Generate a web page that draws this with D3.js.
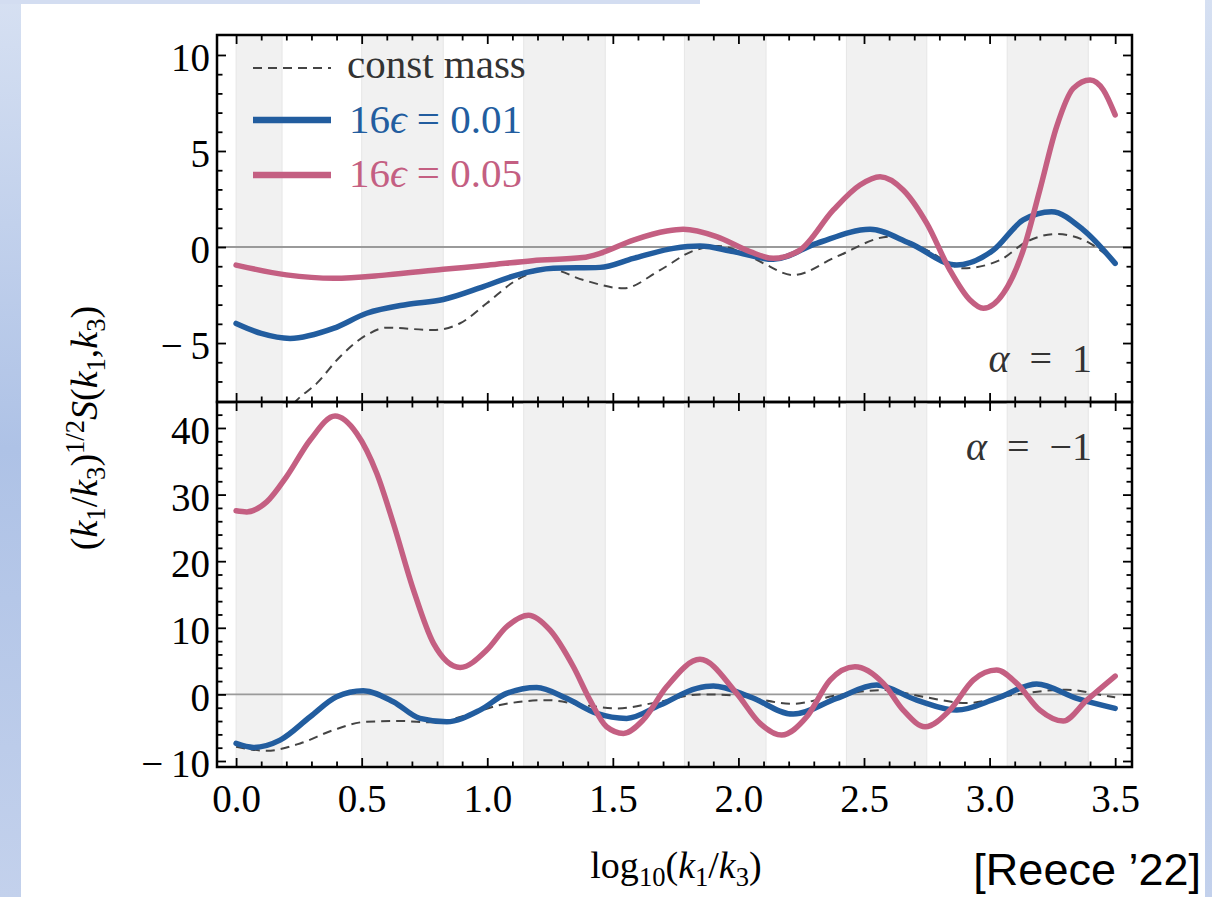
<!DOCTYPE html>
<html>
<head>
<meta charset="utf-8">
<script src="https://cdn.jsdelivr.net/npm/d3@7"></script>
<style>
body { margin: 0; background: #fff; }
svg { display: block; }
</style>
</head>
<body>
<svg id="chart" width="1212" height="897"></svg>
<script>
// shaded log10(k1/k3) intervals
var bands = [[0, 0.183], [0.5, 0.825], [1.145, 1.47], [1.785, 2.11], [2.43, 2.75], [3.07, 3.393]]
var xTicks = [0, 0.5, 1, 1.5, 2, 2.5, 3, 3.5]
var topTicks = [-5, 0, 5, 10]
var botTicks = [-10, 0, 10, 20, 30, 40]
var seriesNames = ['const mass', '0.01', '0.05']

// alpha = 1
var topConst = [[0.1, -10.8], [0.235, -8.07], [0.321, -7.1], [0.414, -5.71], [0.52, -4.58], [0.6, -4.2], [0.786, -4.32], [0.892, -3.97], [0.998, -2.93], [1.117, -1.72], [1.25, -1.16], [1.383, -1.72], [1.542, -2.15], [1.688, -1.2], [1.82, -0.2], [1.92, 0.05], [2.0, -0.2], [2.1, -0.85], [2.218, -1.46], [2.391, -0.5], [2.603, 0.54], [2.75, -0.16], [2.895, -1.11], [3.041, -0.68], [3.148, 0.28], [3.267, 0.68], [3.4, 0.19], [3.49, -0.68]]
var topLow = [[0, -3.98], [0.1, -4.5], [0.215, -4.76], [0.387, -4.24], [0.52, -3.45], [0.68, -2.99], [0.825, -2.73], [0.985, -2.06], [1.117, -1.46], [1.263, -1.11], [1.449, -1.06], [1.582, -0.59], [1.741, -0.07], [1.847, 0.05], [1.98, -0.24], [2.139, -0.64], [2.312, 0.19], [2.524, 0.92], [2.683, 0.19], [2.869, -0.94], [3.015, -0.16], [3.134, 1.41], [3.247, 1.84], [3.373, 0.89], [3.5, -0.85]]
var topHigh = [[0, -0.94], [0.2, -1.45], [0.39, -1.63], [0.6, -1.45], [0.825, -1.16], [1.0, -0.95], [1.18, -0.71], [1.38, -0.55], [1.449, -0.33], [1.582, 0.36], [1.715, 0.83], [1.78, 0.92], [1.913, 0.54], [2.046, -0.24], [2.139, -0.59], [2.245, -0.16], [2.378, 1.93], [2.484, 3.23], [2.564, 3.66], [2.656, 2.97], [2.75, 1.23], [2.842, -1.2], [2.922, -2.76], [2.975, -3.19], [3.055, -2.41], [3.134, -0.16], [3.2, 2.97], [3.267, 6.27], [3.333, 8.26], [3.4, 8.7], [3.453, 8.18], [3.5, 6.88]]

// alpha = -1
var botConst = [[0, -7.86], [0.122, -8.46], [0.255, -7.36], [0.387, -5.36], [0.52, -4.1], [0.653, -4.0], [0.786, -4.2], [0.919, -3.1], [1.051, -1.6], [1.237, -0.86], [1.383, -1.6], [1.515, -2.1], [1.688, -1.1], [1.847, 0.0], [1.98, -0.15], [2.218, -1.4], [2.391, -0.15], [2.577, 0.65], [2.736, -0.36], [2.909, -1.3], [3.08, -0.15], [3.306, 0.7], [3.453, -0.15], [3.5, -0.45]]
var botLow = [[0, -7.36], [0.069, -7.96], [0.175, -6.86], [0.295, -3.36], [0.4, -0.36], [0.506, 0.55], [0.626, -1.1], [0.732, -3.6], [0.839, -4.1], [0.971, -2.36], [1.077, 0.15], [1.197, 1.05], [1.316, -0.6], [1.436, -2.85], [1.555, -3.6], [1.688, -1.6], [1.834, 0.9], [1.9, 1.25], [2.046, -0.36], [2.218, -2.96], [2.391, -0.6], [2.55, 1.4], [2.71, -0.86], [2.869, -2.36], [3.028, -0.6], [3.187, 1.55], [3.347, -0.6], [3.5, -2.1]]
var botHigh = [[0, 27.57], [0.042, 27.4], [0.122, 28.9], [0.201, 32.7], [0.295, 38.2], [0.394, 41.8], [0.48, 39.2], [0.56, 33.2], [0.626, 25.7], [0.706, 15.7], [0.786, 7.66], [0.892, 4.05], [0.998, 6.65], [1.077, 10.15], [1.164, 11.9], [1.25, 9.65], [1.343, 4.15], [1.409, -0.86], [1.475, -4.86], [1.542, -5.86], [1.62, -3.86], [1.714, 1.14], [1.847, 5.26], [1.993, 0.15], [2.086, -4.35], [2.172, -6.1], [2.272, -3.36], [2.365, 2.15], [2.464, 4.15], [2.577, 1.65], [2.656, -2.36], [2.743, -4.86], [2.842, -2.36], [2.935, 2.15], [3.028, 3.65], [3.108, 1.65], [3.2, -2.36], [3.293, -4.0], [3.387, -0.86], [3.5, 2.75]]

var serif = '"Liberation Serif", "Times New Roman", serif'
var blue = '#225d9f'
var pink = '#c45f82'
var styles = [
  {stroke: '#444', width: 2, dash: '9,6'},
  {stroke: blue, width: 5.5, dash: null},
  {stroke: pink, width: 5.5, dash: null}
]

var svg = d3.select('#chart')

// slide background strips
var grad = svg.append('defs').append('linearGradient')
    .attr('id', 'slide').attr('x1', 0).attr('y1', 0).attr('x2', 0).attr('y2', 1)
grad.append('stop').attr('offset', '0%').attr('stop-color', '#d6e0f2')
grad.append('stop').attr('offset', '50%').attr('stop-color', '#aec2e6')
grad.append('stop').attr('offset', '100%').attr('stop-color', '#c3d1ec')
svg.append('rect').attr('width', 21).attr('height', 897).attr('fill', 'url(#slide)')
svg.append('rect').attr('x', 1205).attr('width', 7).attr('height', 897).attr('fill', 'url(#slide)')
svg.append('rect').attr('width', 700).attr('height', 4).attr('fill', '#d3ddf1')

var x = d3.scaleLinear().domain([-0.076, 3.567]).range([217, 1132])
var xMinor = d3.range(0, 36).filter(function (i) { return i % 5 }).map(function (i) { return i / 10 })

var panels = [
  {y: d3.scaleLinear().domain([-8.07, 11.04]).range([402, 35]), ticks: topTicks, step: 1,
    series: [topConst, topLow, topHigh], label: '1', labelY: 372},
  {y: d3.scaleLinear().domain([-10.9, 43.9]).range([767, 402]), ticks: botTicks, step: 2,
    series: [botConst, botLow, botHigh], label: '−1', labelY: 460}
]

var line = d3.line().curve(d3.curveMonotoneX)
var fmtY = function (d) { return d < 0 ? '−\u2009' + Math.abs(d) : String(d) }

function styleAxis (g) {
  g.select('.domain').remove()
  g.selectAll('line').attr('stroke', '#000').attr('stroke-width', 1.8)
  g.selectAll('text').attr('font-family', serif).attr('font-size', 39).attr('fill', '#000')
}

panels.forEach(function (p, i) {
  var y = p.y
  var y0 = y.range()[0]
  var y1 = y.range()[1]
  var g = svg.append('g')

  g.append('clipPath').attr('id', 'clip' + i)
    .append('rect').attr('x', 217).attr('y', y1).attr('width', 915).attr('height', y0 - y1)

  g.selectAll('rect.band').data(bands).enter().append('rect')
      .attr('class', 'band')
      .attr('x', function (d) { return x(d[0]) })
      .attr('width', function (d) { return x(d[1]) - x(d[0]) })
      .attr('y', y1).attr('height', y0 - y1)
      .attr('fill', '#f1f1f1')
      .attr('stroke', '#e6e6e6').attr('stroke-width', 1)

  g.append('line')
      .attr('x1', 217).attr('x2', 1132)
      .attr('y1', y(0)).attr('y2', y(0))
      .attr('stroke', '#9a9a9a').attr('stroke-width', 1.8)

  var lines = g.append('g').attr('clip-path', 'url(#clip' + i + ')')
  p.series.forEach(function (s, j) {
    lines.append('path')
        .attr('d', line.x(function (d) { return x(d[0]) }).y(function (d) { return y(d[1]) })(s))
        .attr('fill', 'none')
        .attr('stroke', styles[j].stroke)
        .attr('stroke-width', styles[j].width)
        .attr('stroke-dasharray', styles[j].dash)
        .attr('stroke-linecap', j ? 'round' : 'butt')
  })

  var dom = y.domain()
  var yMinor = d3.range(Math.ceil(dom[0] / p.step) * p.step, dom[1], p.step)
      .filter(function (v) { return p.ticks.indexOf(v) < 0 && y(v) > y1 + 3 && y(v) < y0 - 3 })

  g.append('g').attr('transform', 'translate(217,0)')
      .call(d3.axisLeft(y).tickValues(p.ticks).tickSize(-9).tickPadding(7).tickFormat(fmtY))
      .call(styleAxis)
      .selectAll('text').attr('dy', '0.4em')
  g.append('g').attr('transform', 'translate(217,0)')
      .call(d3.axisLeft(y).tickValues(yMinor).tickSize(-5.5).tickFormat(''))
      .call(styleAxis)
  g.append('g').attr('transform', 'translate(1132,0)')
      .call(d3.axisRight(y).tickValues(p.ticks).tickSize(-9).tickFormat(''))
      .call(styleAxis)
  g.append('g').attr('transform', 'translate(1132,0)')
      .call(d3.axisRight(y).tickValues(yMinor).tickSize(-5.5).tickFormat(''))
      .call(styleAxis)

  g.append('g').attr('transform', 'translate(0,' + y1 + ')')
      .call(d3.axisTop(x).tickValues(xTicks).tickSize(-9).tickFormat(''))
      .call(styleAxis)
  g.append('g').attr('transform', 'translate(0,' + y1 + ')')
      .call(d3.axisTop(x).tickValues(xMinor).tickSize(-5.5).tickFormat(''))
      .call(styleAxis)
  g.append('g').attr('transform', 'translate(0,' + y0 + ')')
      .call(d3.axisBottom(x).tickValues(xTicks).tickSize(-9).tickPadding(17)
        .tickFormat(i ? d3.format('.1f') : ''))
      .call(styleAxis)
  g.append('g').attr('transform', 'translate(0,' + y0 + ')')
      .call(d3.axisBottom(x).tickValues(xMinor).tickSize(-5.5).tickFormat(''))
      .call(styleAxis)

  g.append('rect')
      .attr('x', 217).attr('y', y1).attr('width', 915).attr('height', y0 - y1)
      .attr('fill', 'none').attr('stroke', '#000').attr('stroke-width', 2.5)

  var lab = g.append('text')
      .attr('x', 1092).attr('y', p.labelY)
      .attr('text-anchor', 'end')
      .attr('font-family', serif).attr('font-size', 40).attr('fill', '#333')
  lab.append('tspan').attr('font-style', 'italic').text('α')
  lab.append('tspan').text('\u2002=\u2002' + p.label)
})

// legend
var legend = svg.append('g')
var legendY = [68, 120, 175]
var textY = [78, 133, 187]
seriesNames.forEach(function (name, j) {
  legend.append('line')
      .attr('x1', 253).attr('x2', 331)
      .attr('y1', legendY[j]).attr('y2', legendY[j])
      .attr('stroke', styles[j].stroke)
      .attr('stroke-width', j ? 6.5 : 2)
      .attr('stroke-dasharray', styles[j].dash)
  var t = legend.append('text')
      .attr('x', j ? 349 : 347).attr('y', textY[j])
      .attr('font-family', serif).attr('font-size', 41)
      .attr('fill', j ? styles[j].stroke : '#333')
  if (j === 0) {
    t.text(name)
  } else {
    t.append('tspan').text('16')
    t.append('tspan').attr('font-style', 'italic').text('ϵ')
    t.append('tspan').text(' = ' + name)
  }
})

// axis titles
var yt = svg.append('text')
    .attr('transform', 'translate(97,428) rotate(-90)')
    .attr('text-anchor', 'middle')
    .attr('font-family', serif).attr('font-size', 38).attr('fill', '#000')
function part (el, txt, opts) {
  var s = el.append('tspan').text(txt)
  if (opts && opts.it) s.attr('font-style', 'italic')
  if (opts && opts.sub) s.attr('font-size', '0.7em').attr('baseline-shift', '-0.3em')
  if (opts && opts.sup) s.attr('font-size', '0.7em').attr('baseline-shift', '0.5em')
  return s
}
part(yt, '(')
part(yt, 'k', {it: true})
part(yt, '1', {sub: true})
part(yt, '/')
part(yt, 'k', {it: true})
part(yt, '3', {sub: true})
part(yt, ')')
part(yt, '1/2', {sup: true})
part(yt, 'S', {it: true})
part(yt, '(')
part(yt, 'k', {it: true})
part(yt, '1', {sub: true})
part(yt, ',')
part(yt, 'k', {it: true})
part(yt, '3', {sub: true})
part(yt, ')')

var xt = svg.append('text')
    .attr('x', 676).attr('y', 878)
    .attr('text-anchor', 'middle')
    .attr('font-family', serif).attr('font-size', 38).attr('fill', '#000')
part(xt, 'log')
part(xt, '10', {sub: true})
part(xt, '(')
part(xt, 'k', {it: true})
part(xt, '1', {sub: true})
part(xt, '/')
part(xt, 'k', {it: true})
part(xt, '3', {sub: true})
part(xt, ')')

svg.append('text')
    .attr('x', 1201).attr('y', 885)
    .attr('text-anchor', 'end')
    .attr('font-family', '"Liberation Sans", Arial, sans-serif')
    .attr('font-size', 45).attr('fill', '#000')
    .text('[Reece ’22]')
</script>
</body>
</html>
